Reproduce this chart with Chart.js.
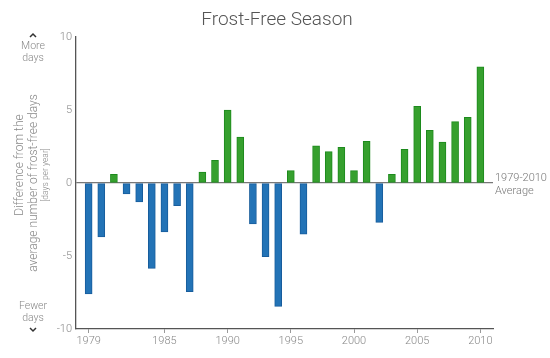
<!DOCTYPE html>
<html>
<head>
<meta charset="utf-8">
<script src="https://cdn.jsdelivr.net/npm/chart.js@4.4.0/dist/chart.umd.min.js"></script>
<style>
html,body{margin:0;padding:0;background:#fff;}
#wrap{width:550px;height:358px;position:relative;}
</style>
</head>
<body>
<div id="wrap"><canvas id="c" width="550" height="358"></canvas></div>
<script>
const years = [1979,1980,1981,1982,1983,1984,1985,1986,1987,1988,1989,1990,1991,1992,1993,1994,1995,1996,1997,1998,1999,2000,2001,2002,2003,2004,2005,2006,2007,2008,2009,2010];
const differences = [-7.6,-3.7,0.6,-0.75,-1.3,-5.85,-3.35,-1.55,-7.45,0.75,1.55,5.0,3.15,-2.8,-5.05,-8.45,0.85,-3.5,2.55,2.15,2.45,0.85,2.85,-2.7,0.6,2.3,5.25,3.6,2.8,4.2,4.5,7.95];
const yTicks = [-10,-5,0,5,10];
const xTickLabels = [1979,1985,1990,1995,2000,2005,2010];

const titleText = "Frost-Free Season";
const yTitleLines = ["Difference from the","average number of frost-free days"];
const yUnit = "[days per year]";
const moreLabel = ["More","days"];
const fewerLabel = ["Fewer","days"];
const avgLabel = ["1979-2010","Average"];

const FONT = "Roboto, 'Open Sans', sans-serif";

const annotations = {
  id: 'annotations',
  afterDraw(chart) {
    const ctx = chart.ctx;
    const y = chart.scales.y;
    ctx.save();
    ctx.fillStyle = '#555';
    ctx.font = "300 19px " + FONT;
    ctx.textAlign = 'center';
    ctx.textBaseline = 'middle';
    ctx.fillText(titleText, 277, 20);

    ctx.fillStyle = '#777';
    ctx.font = "300 11px " + FONT;
    ctx.textAlign = 'left';
    const zy = y.getPixelForValue(0);
    ctx.fillText(avgLabel[0], 495, zy - 5);
    ctx.fillText(avgLabel[1], 495, zy + 8);

    ctx.fillStyle = '#888';
    ctx.textAlign = 'center';
    ctx.font = "300 10.5px " + FONT;
    ctx.fillText(moreLabel[0], 33, 46);
    ctx.fillText(moreLabel[1], 33, 58);
    ctx.fillText(fewerLabel[0], 33, 306);
    ctx.fillText(fewerLabel[1], 33, 318);
    ctx.strokeStyle = '#333';
    ctx.lineWidth = 1.5;
    ctx.beginPath();
    ctx.moveTo(30, 37); ctx.lineTo(33, 34); ctx.lineTo(36, 37);
    ctx.stroke();
    ctx.beginPath();
    ctx.moveTo(30, 328); ctx.lineTo(33, 331); ctx.lineTo(36, 328);
    ctx.stroke();

    ctx.fillStyle = '#888';
    ctx.save();
    ctx.translate(20, 165);
    ctx.rotate(-Math.PI/2);
    ctx.font = "300 12px " + FONT;
    ctx.fillText(yTitleLines[0], 0, 0);
    ctx.restore();
    ctx.save();
    ctx.translate(34, 183);
    ctx.rotate(-Math.PI/2);
    ctx.font = "300 12px " + FONT;
    ctx.fillText(yTitleLines[1], 0, 0);
    ctx.restore();
    ctx.save();
    ctx.translate(46, 175);
    ctx.rotate(-Math.PI/2);
    ctx.font = "300 8.5px " + FONT;
    ctx.fillText(yUnit, 0, 0);
    ctx.restore();

    ctx.restore();
  }
};

new Chart(document.getElementById('c'), {
  type: 'bar',
  data: {
    datasets: [{
      data: years.map((yr, i) => ({x: yr, y: differences[i]})),
      backgroundColor: differences.map(v => v >= 0 ? '#36a02e' : '#2373b6'),
      borderColor: differences.map(v => v >= 0 ? '#1d8a1d' : '#185d9c'),
      borderWidth: 1,
      borderSkipped: false,
      barThickness: 7
    }]
  },
  options: {
    responsive: false,
    animation: false,
    devicePixelRatio: 1,
    layout: { padding: { left: 0, right: 57, top: 37, bottom: 0 } },
    plugins: { legend: { display: false }, title: { display: false }, tooltip: { enabled: false } },
    scales: {
      x: {
        type: 'linear',
        min: 1978,
        max: 2011,
        offset: false,
        afterBuildTicks(scale) { scale.ticks = xTickLabels.map(v => ({value: v})); },
        afterFit(scale) { scale.height = 29; },
        ticks: {
          color: '#888',
          font: { family: FONT, size: 11, weight: 300 },
          padding: 2,
          maxRotation: 0,
          autoSkip: false,
          callback: v => String(v)
        },
        grid: { offset: false, drawOnChartArea: false, tickLength: 4, color: '#999' },
        border: { color: '#555', width: 1.3 }
      },
      y: {
        min: -10,
        max: 10,
        afterBuildTicks(scale) { scale.ticks = yTicks.map(v => ({value: v})); },
        afterFit(scale) { scale.width = 76; },
        ticks: {
          color: '#888',
          font: { family: FONT, size: 11, weight: 300 },
          padding: 4
        },
        grid: {
          drawTicks: false,
          tickLength: 0,
          color: c => (c.tick && c.tick.value === 0) ? '#777' : 'rgba(0,0,0,0)',
          lineWidth: 1.3
        },
        border: { color: '#555', width: 1.3 }
      }
    }
  },
  plugins: [annotations]
});
</script>
</body>
</html>
